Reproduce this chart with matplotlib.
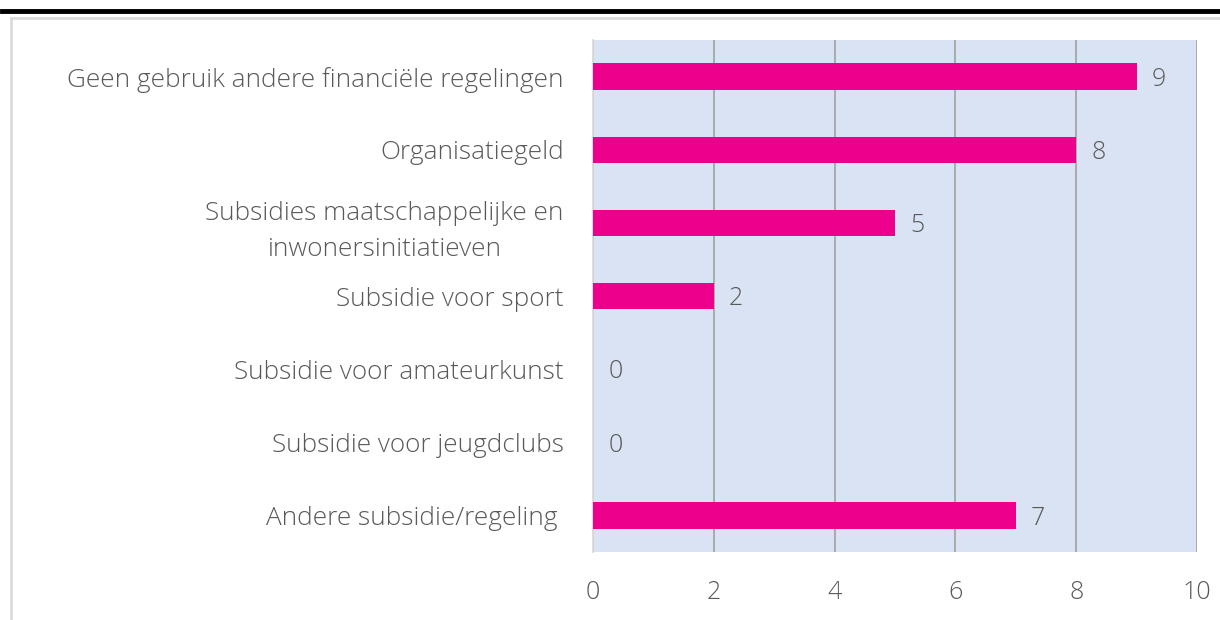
import matplotlib.pyplot as plt
from matplotlib.lines import Line2D

categorieen = [
    "Geen gebruik andere financiële regelingen",
    "Organisatiegeld",
    "Subsidies maatschappelijke en\ninwonersinitiatieven",
    "Subsidie voor sport",
    "Subsidie voor amateurkunst",
    "Subsidie voor jeugdclubs",
    "Andere subsidie/regeling ",
]
aantallen = [9, 8, 5, 2, 0, 0, 7]
x_ticks = [0, 2, 4, 6, 8, 10]

roze = "#EC008C"
achtergrond = "#DAE3F3"
tekst = "#595959"

plt.rcParams['font.family'] = ['Open Sans', 'DejaVu Sans']

fig = plt.figure(figsize=(12.2, 6.2), dpi=100)
ax = fig.add_axes([593 / 1220, 1 - 552 / 620, (1197 - 593) / 1220, 512 / 620])
ax.set_facecolor(achtergrond)

ypos = list(range(len(categorieen)))
ax.barh(ypos, aantallen, height=0.36, color=roze, zorder=3)
ax.set_ylim(len(categorieen) - 0.5, -0.5)
ax.set_xlim(0, 10)
ax.set_xticks(x_ticks)
ax.set_yticks(ypos)
ax.set_yticklabels(categorieen, fontsize=18.8, color=tekst, fontweight='light',
                   multialignment='center', linespacing=1.6)
ax.tick_params(axis='x', labelsize=18, labelcolor=tekst, length=0, pad=20.5)
ax.tick_params(axis='y', length=0, pad=21)
for lbl in ax.get_xticklabels():
    lbl.set_fontweight('light')

ax.grid(axis='x', color='#A6A6A6', linewidth=1.3, zorder=1)
for s in ['top', 'right', 'bottom']:
    ax.spines[s].set_visible(False)
ax.spines['left'].set_color('#D9D9D9')
ax.spines['left'].set_linewidth(1.3)

for y, v in zip(ypos, aantallen):
    ax.annotate(str(v), (v, y), xytext=(11, -2), textcoords='offset points',
                va='center', ha='left', fontsize=18, color=tekst, fontweight='light')

# kader en zwarte lijn bovenaan
fig.add_artist(Line2D([2 / 1220, 1], [1 - 11 / 620] * 2, color='black', linewidth=3.5))
fig.add_artist(Line2D([11 / 1220, 1], [1 - 18 / 620] * 2, color='#D9D9D9', linewidth=1.8))
fig.add_artist(Line2D([11 / 1220] * 2, [0, 1 - 18 / 620], color='#D9D9D9', linewidth=1.8))

fig.savefig("out.png", dpi=100)
